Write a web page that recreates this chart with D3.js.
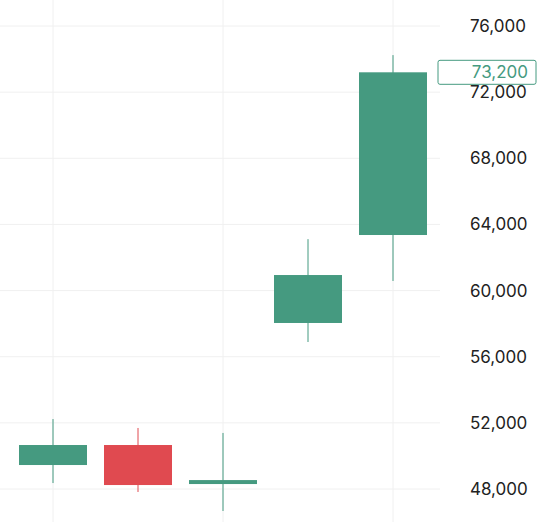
<!DOCTYPE html>
<html><head><meta charset="utf-8">
<script src="https://cdn.jsdelivr.net/npm/d3@7"></script>
<style>body{margin:0;background:#fff}</style>
</head><body><div id="chart"></div>
<script>
var opens = [49450, 50660, 48300, 58040, 63360];
var closes = [50660, 48240, 48540, 60940, 73200];
var highs = [52230, 51690, 51390, 63110, 74240];
var lows = [48360, 47820, 46670, 56890, 60580];
var ticks = [48000, 52000, 56000, 60000, 64000, 68000, 72000, 76000];
var lastPrice = 73200;

var w = 540, h = 522;
var up = '#459a80', down = '#e04a50';
var svg = d3.select('#chart').append('svg').attr('width', w).attr('height', h);

var x = d3.scaleBand().domain(d3.range(opens.length)).range([2, 444]).padding(0.2);
var y = d3.scaleLinear().domain([48000, 76000]).range([489, 26]);

// grid
svg.selectAll('.hg').data(ticks).enter().append('line')
    .attr('x1', 0).attr('x2', 440).attr('y1', function(d) { return y(d); }).attr('y2', function(d) { return y(d); })
    .attr('stroke', '#f0f0f0');
svg.selectAll('.vg').data([0, 2, 4]).enter().append('line')
    .attr('x1', function(d) { return x(d) + x.bandwidth() / 2; }).attr('x2', function(d) { return x(d) + x.bandwidth() / 2; })
    .attr('y1', 0).attr('y2', h).attr('stroke', '#f0f0f0');

var g = svg.selectAll('.c').data(opens).enter().append('g');
g.append('line')
    .attr('x1', function(d, i) { return x(i) + x.bandwidth() / 2; })
    .attr('x2', function(d, i) { return x(i) + x.bandwidth() / 2; })
    .attr('y1', function(d, i) { return y(highs[i]); })
    .attr('y2', function(d, i) { return y(lows[i]); })
    .attr('stroke', function(d, i) { return closes[i] >= d ? up : down; });
g.append('rect')
    .attr('x', function(d, i) { return x(i); })
    .attr('width', x.bandwidth())
    .attr('y', function(d, i) { return y(Math.max(d, closes[i])); })
    .attr('height', function(d, i) { return Math.max(1, Math.abs(y(d) - y(closes[i]))); })
    .attr('fill', function(d, i) { return closes[i] >= d ? up : down; });

// axis
var axis = svg.append('g').attr('transform', 'translate(444,0)')
    .call(d3.axisRight(y).tickValues(ticks).tickSize(0).tickPadding(26).tickFormat(d3.format(',')));
axis.select('.domain').remove();
axis.selectAll('text').attr('font-family', 'Inter, sans-serif').attr('font-size', 17).attr('fill', '#222');

// last price label
var lp = svg.append('g').attr('transform', 'translate(438,' + y(lastPrice) + ')');
lp.append('rect').attr('x', 0).attr('y', -12).attr('width', 98).attr('height', 24).attr('rx', 2)
    .attr('fill', '#fff').attr('stroke', up);
lp.append('text').attr('x', 90).attr('y', 6).attr('text-anchor', 'end')
    .attr('font-family', 'Inter, sans-serif').attr('font-size', 17).attr('fill', up)
    .text(d3.format(',')(lastPrice));
</script>
</body></html>
